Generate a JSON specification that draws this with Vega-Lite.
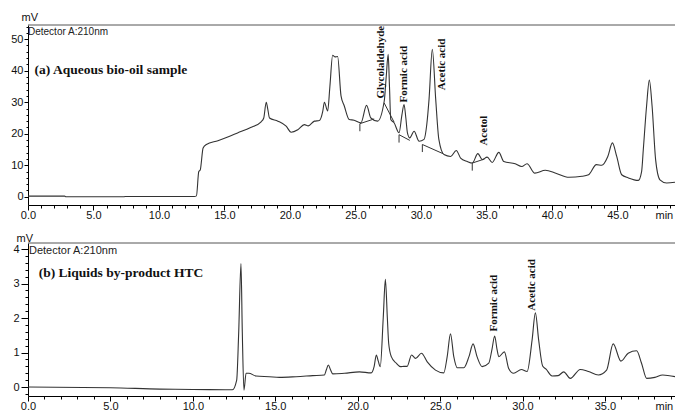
{
  "$schema": "https://vega.github.io/schema/vega-lite/v6.json",
  "padding": {"left": 0, "top": 11, "right": 0, "bottom": 0},
  "spacing": 12,
  "config": {
    "view": {"stroke": null},
    "axis": {
      "domainColor": "#000", "tickColor": "#000", "labelColor": "#111",
      "labelFont": "Liberation Sans, Arial", "labelFontSize": 11, "labelPadding": -1, "labelOverlap": false, "labelFlush": false,
      "titleFont": "Liberation Sans, Arial", "titleFontSize": 11, "titleFontWeight": "normal", "titleColor": "#111", "grid": false
    }
  },
  "datasets": {
    "a": [
      {"t":0,"v":0.2},{"t":2.8,"v":0.2},{"t":2.9,"v":0},{"t":7.3,"v":0},{"t":7.4,"v":0.1},{"t":12.7,"v":0.1},
      {"t":12.86,"v":0.3},{"t":13.04,"v":8},{"t":13.15,"v":8.5},{"t":13.37,"v":15.5},{"t":13.62,"v":16.6},
      {"t":14.5,"v":17.8},{"t":15.2,"v":18.9},{"t":16.03,"v":20.3},{"t":17,"v":22},{"t":17.8,"v":23.8},
      {"t":18.0,"v":25},{"t":18.19,"v":30},{"t":18.3,"v":28},{"t":18.44,"v":25},{"t":19.08,"v":24},
      {"t":19.71,"v":22.4},{"t":20.09,"v":20.5},{"t":20.6,"v":21.3},{"t":21.1,"v":22.9},{"t":21.4,"v":22.5},
      {"t":21.87,"v":24},{"t":22.25,"v":24.2},{"t":22.5,"v":27},{"t":22.63,"v":30},{"t":22.88,"v":27.2},
      {"t":23.05,"v":35},{"t":23.26,"v":44.9},{"t":23.45,"v":44.4},{"t":23.64,"v":44.5},{"t":23.9,"v":32},
      {"t":24.15,"v":28.8},{"t":24.53,"v":24.5},{"t":24.9,"v":24.3},{"t":25.42,"v":23.5},{"t":25.85,"v":29},
      {"t":26.18,"v":25},{"t":26.69,"v":24},{"t":27.2,"v":30.4},{"t":27.35,"v":38},{"t":27.5,"v":45.2},
      {"t":27.6,"v":35},{"t":27.7,"v":24.5},{"t":27.95,"v":23.5},{"t":28.33,"v":20.3},{"t":28.55,"v":26},
      {"t":28.71,"v":29.3},{"t":28.85,"v":25},{"t":28.97,"v":20.3},{"t":29.15,"v":18.7},{"t":29.48,"v":20.8},
      {"t":29.86,"v":17.6},{"t":30.24,"v":18.2},{"t":30.45,"v":23},{"t":30.62,"v":30.9},{"t":30.87,"v":46.8},
      {"t":31.13,"v":30.9},{"t":31.37,"v":18.2},{"t":31.76,"v":13.4},{"t":32.27,"v":12.8},{"t":32.7,"v":14.7},
      {"t":33.03,"v":12.3},{"t":33.54,"v":11.2},{"t":33.92,"v":10.7},{"t":34.35,"v":13.7},{"t":34.68,"v":11.8},
      {"t":35.06,"v":12.6},{"t":35.44,"v":10.9},{"t":35.95,"v":14.1},{"t":36.33,"v":11.2},{"t":37.2,"v":10.5},
      {"t":37.7,"v":9.6},{"t":38.1,"v":10.5},{"t":38.7,"v":7.5},{"t":39.5,"v":8.4},{"t":40.3,"v":7.5},
      {"t":41.3,"v":6.2},{"t":42.3,"v":6.5},{"t":42.8,"v":7},{"t":43.4,"v":10.2},{"t":43.8,"v":10},
      {"t":44.27,"v":12.8},{"t":44.62,"v":17.1},{"t":44.95,"v":12.8},{"t":45.33,"v":7},{"t":45.84,"v":6},
      {"t":46.6,"v":5.2},{"t":46.85,"v":8},{"t":46.98,"v":15},{"t":47.23,"v":28.8},{"t":47.44,"v":37},
      {"t":47.65,"v":28.8},{"t":47.92,"v":11.8},{"t":48.25,"v":5.4},{"t":48.76,"v":4.4},{"t":49.4,"v":4.6}
    ],
    "abase": [
      {"t":25.34,"v":23.2,"t2":26.43,"v2":24.7},
      {"t":27.19,"v":29.8,"t2":27.95,"v2":23.7},
      {"t":28.33,"v":19.7,"t2":29.15,"v2":17.9},
      {"t":30.11,"v":16.6,"t2":31.68,"v2":13.7},
      {"t":33.92,"v":10.7,"t2":34.86,"v2":12.0},
      {"t":25.34,"v":23.2,"t2":25.34,"v2":20.8},
      {"t":28.33,"v":19.7,"t2":28.33,"v2":17.2},
      {"t":30.11,"v":16.6,"t2":30.11,"v2":14.2},
      {"t":33.92,"v":10.7,"t2":33.92,"v2":8.3}
    ],
    "alabels": [
      {"t":26.94,"v":42.7,"label":"Glycolaldehyde"},
      {"t":28.7,"v":38.9,"label":"Formic acid"},
      {"t":31.58,"v":42.0,"label":"Acetic acid"},
      {"t":34.78,"v":21.0,"label":"Acetol"}
    ],
    "b": [
      {"t":0,"v":0},{"t":5,"v":-0.02},{"t":8,"v":-0.06},{"t":10,"v":-0.07},{"t":12.4,"v":-0.08},
      {"t":12.66,"v":0.2},{"t":12.78,"v":1.55},{"t":12.92,"v":3.58},{"t":13.0,"v":1.6},{"t":13.1,"v":-0.09},
      {"t":13.23,"v":0.4},{"t":13.4,"v":0.4},{"t":13.83,"v":0.32},{"t":14.64,"v":0.3},{"t":15.25,"v":0.28},
      {"t":16.26,"v":0.3},{"t":17.27,"v":0.33},{"t":17.98,"v":0.35},{"t":18.1,"v":0.5},{"t":18.22,"v":0.64},
      {"t":18.35,"v":0.5},{"t":18.49,"v":0.38},{"t":19.2,"v":0.4},{"t":20.11,"v":0.44},{"t":20.82,"v":0.41},
      {"t":21.0,"v":0.6},{"t":21.13,"v":0.93},{"t":21.25,"v":0.75},{"t":21.37,"v":0.59},{"t":21.55,"v":2.0},
      {"t":21.68,"v":3.12},{"t":21.8,"v":2.0},{"t":21.88,"v":1.27},{"t":22.04,"v":0.88},{"t":22.34,"v":0.69},
      {"t":22.6,"v":0.59},{"t":22.8,"v":0.6},{"t":23.0,"v":0.6},{"t":23.27,"v":0.93},{"t":23.51,"v":0.83},
      {"t":23.87,"v":0.98},{"t":24.22,"v":0.73},{"t":24.72,"v":0.49},{"t":25.22,"v":0.41},{"t":25.43,"v":0.88},
      {"t":25.63,"v":1.54},{"t":25.83,"v":0.88},{"t":26.04,"v":0.56},{"t":26.44,"v":0.56},{"t":26.75,"v":0.88},
      {"t":27.0,"v":1.25},{"t":27.24,"v":0.88},{"t":27.55,"v":0.59},{"t":27.95,"v":0.69},{"t":28.15,"v":1.1},
      {"t":28.31,"v":1.48},{"t":28.45,"v":1.1},{"t":28.56,"v":0.88},{"t":28.9,"v":1.02},{"t":29.16,"v":0.54},
      {"t":29.46,"v":0.4},{"t":29.93,"v":0.51},{"t":30.28,"v":0.45},{"t":30.58,"v":1.36},{"t":30.78,"v":2.15},
      {"t":30.98,"v":1.36},{"t":31.22,"v":0.61},{"t":31.43,"v":0.52},{"t":31.79,"v":0.32},{"t":32.16,"v":0.33},
      {"t":32.5,"v":0.44},{"t":32.9,"v":0.25},{"t":33.5,"v":0.51},{"t":34.0,"v":0.45},{"t":34.6,"v":0.35},
      {"t":35.1,"v":0.49},{"t":35.5,"v":1.25},{"t":35.97,"v":0.75},{"t":36.41,"v":0.98},{"t":36.92,"v":1.05},
      {"t":37.22,"v":0.69},{"t":37.53,"v":0.25},{"t":38.03,"v":0.28},{"t":38.5,"v":0.35},{"t":39.25,"v":0.3}
    ],
    "blabels": [
      {"t":28.3,"v":2.43,"label":"Formic acid"},
      {"t":30.6,"v":2.96,"label":"Acetic acid"}
    ]
  },
  "vconcat": [
    {
      "width": 647,
      "height": 180,
      "encoding": {
        "x": {"field": "t", "type": "quantitative",
          "scale": {"domain": [0, 49.4], "nice": false, "zero": false},
          "axis": {
            "title": "min", "titleAlign": "left", "titleBaseline": "top", "titleX": 627, "titleY": 4,
            "values": [0,1,2,3,4,5,6,7,8,9,10,11,12,13,14,15,16,17,18,19,20,21,22,23,24,25,26,27,28,29,30,31,32,33,34,35,36,37,38,39,40,41,42,43,44,45,46,47,48,49],
            "labelExpr": "datum.value % 5 === 0 ? format(datum.value, '.1f') : ''",
            "tickSize": {"condition": {"test": "datum.value % 5 === 0", "value": 5}, "value": 3}
          }},
        "y": {"field": "v", "type": "quantitative",
          "scale": {"domain": [-2.6, 54.5], "nice": false, "zero": false},
          "axis": {
            "title": "mV", "titleAngle": 0, "titleAlign": "left", "titleBaseline": "bottom", "titleX": -7, "titleY": -3,
            "minExtent": 28, "maxExtent": 28, "labelPadding": 1,
            "values": [0,2,4,6,8,10,12,14,16,18,20,22,24,26,28,30,32,34,36,38,40,42,44,46,48,50,52,54],
            "labelExpr": "datum.value % 10 === 0 ? format(datum.value, 'd') : ''",
            "tickSize": {"condition": {"test": "datum.value % 10 === 0", "value": 4}, "value": 2}
          }}
      },
      "layer": [
        {"data": {"name": "a"}, "mark": {"type": "line", "color": "#333", "strokeWidth": 1.1, "interpolate": "monotone"}},
        {"data": {"name": "abase"}, "mark": {"type": "rule", "color": "#333", "strokeWidth": 1},
          "encoding": {"x2": {"field": "t2"}, "y2": {"field": "v2"}}},
        {"data": {"name": "alabels"},
          "mark": {"type": "text", "angle": 270, "align": "center", "baseline": "middle", "font": "Liberation Serif, Times New Roman, serif", "fontWeight": "bold", "fontSize": 11, "color": "#111"},
          "encoding": {"text": {"field": "label"}}},
        {"data": {"values": [{"t": 0.5, "v": 40.1, "label": "(a) Aqueous bio-oil sample"}]},
          "mark": {"type": "text", "align": "left", "baseline": "middle", "font": "Liberation Serif, Times New Roman, serif", "fontWeight": "bold", "fontSize": 13.5, "color": "#111"},
          "encoding": {"text": {"field": "label"}}},
        {"data": {"values": [{"t": 0, "v": 54.5, "label": "Detector A:210nm"}]},
          "mark": {"type": "text", "align": "left", "baseline": "top", "dx": 0, "dy": 2, "font": "Liberation Sans, Arial", "fontSize": 10, "color": "#222"},
          "encoding": {"text": {"field": "label"}}},
        {"data": {"values": [{"v": 54.5}]}, "mark": {"type": "rule", "color": "#555", "strokeWidth": 1},
          "encoding": {"x": null, "y": {"field": "v", "type": "quantitative"}}}
      ]
    },
    {
      "width": 647,
      "height": 153,
      "encoding": {
        "x": {"field": "t", "type": "quantitative",
          "scale": {"domain": [0, 39.25], "nice": false, "zero": false},
          "axis": {
            "title": "min", "titleAlign": "left", "titleBaseline": "top", "titleX": 627, "titleY": 4,
            "values": [0,1,2,3,4,5,6,7,8,9,10,11,12,13,14,15,16,17,18,19,20,21,22,23,24,25,26,27,28,29,30,31,32,33,34,35,36,37,38,39],
            "labelExpr": "datum.value % 5 === 0 ? format(datum.value, '.1f') : ''",
            "tickSize": {"condition": {"test": "datum.value % 5 === 0", "value": 5}, "value": 3}
          }},
        "y": {"field": "v", "type": "quantitative",
          "scale": {"domain": [-0.26, 4.174], "nice": false, "zero": false},
          "axis": {
            "title": "mV", "titleAngle": 0, "titleAlign": "left", "titleBaseline": "bottom", "titleX": -12, "titleY": 0,
            "minExtent": 28, "maxExtent": 28, "labelPadding": 2,
            "values": [-0.2,0,0.2,0.4,0.6,0.8,1,1.2,1.4,1.6,1.8,2,2.2,2.4,2.6,2.8,3,3.2,3.4,3.6,3.8,4],
            "labelExpr": "abs(datum.value - round(datum.value)) < 0.001 ? format(datum.value, 'd') : ''",
            "tickSize": {"condition": {"test": "abs(datum.value - round(datum.value)) < 0.001", "value": 7}, "value": 3}
          }}
      },
      "layer": [
        {"data": {"name": "b"}, "mark": {"type": "line", "color": "#333", "strokeWidth": 1.1, "interpolate": "monotone"}},
        {"data": {"name": "blabels"},
          "mark": {"type": "text", "angle": 270, "align": "center", "baseline": "middle", "font": "Liberation Serif, Times New Roman, serif", "fontWeight": "bold", "fontSize": 11, "color": "#111"},
          "encoding": {"text": {"field": "label"}}},
        {"data": {"values": [{"t": 0.65, "v": 3.3, "label": "(b) Liquids by-product HTC"}]},
          "mark": {"type": "text", "align": "left", "baseline": "middle", "font": "Liberation Serif, Times New Roman, serif", "fontWeight": "bold", "fontSize": 13.5, "color": "#111"},
          "encoding": {"text": {"field": "label"}}},
        {"data": {"values": [{"t": 0, "v": 4.174, "label": "Detector A:210nm"}]},
          "mark": {"type": "text", "align": "left", "baseline": "top", "dx": 1, "dy": 2, "font": "Liberation Sans, Arial", "fontSize": 11, "color": "#222"},
          "encoding": {"text": {"field": "label"}}},
        {"data": {"values": [{"v": 4.174}]}, "mark": {"type": "rule", "color": "#555", "strokeWidth": 1},
          "encoding": {"x": null, "y": {"field": "v", "type": "quantitative"}}}
      ]
    }
  ]
}
